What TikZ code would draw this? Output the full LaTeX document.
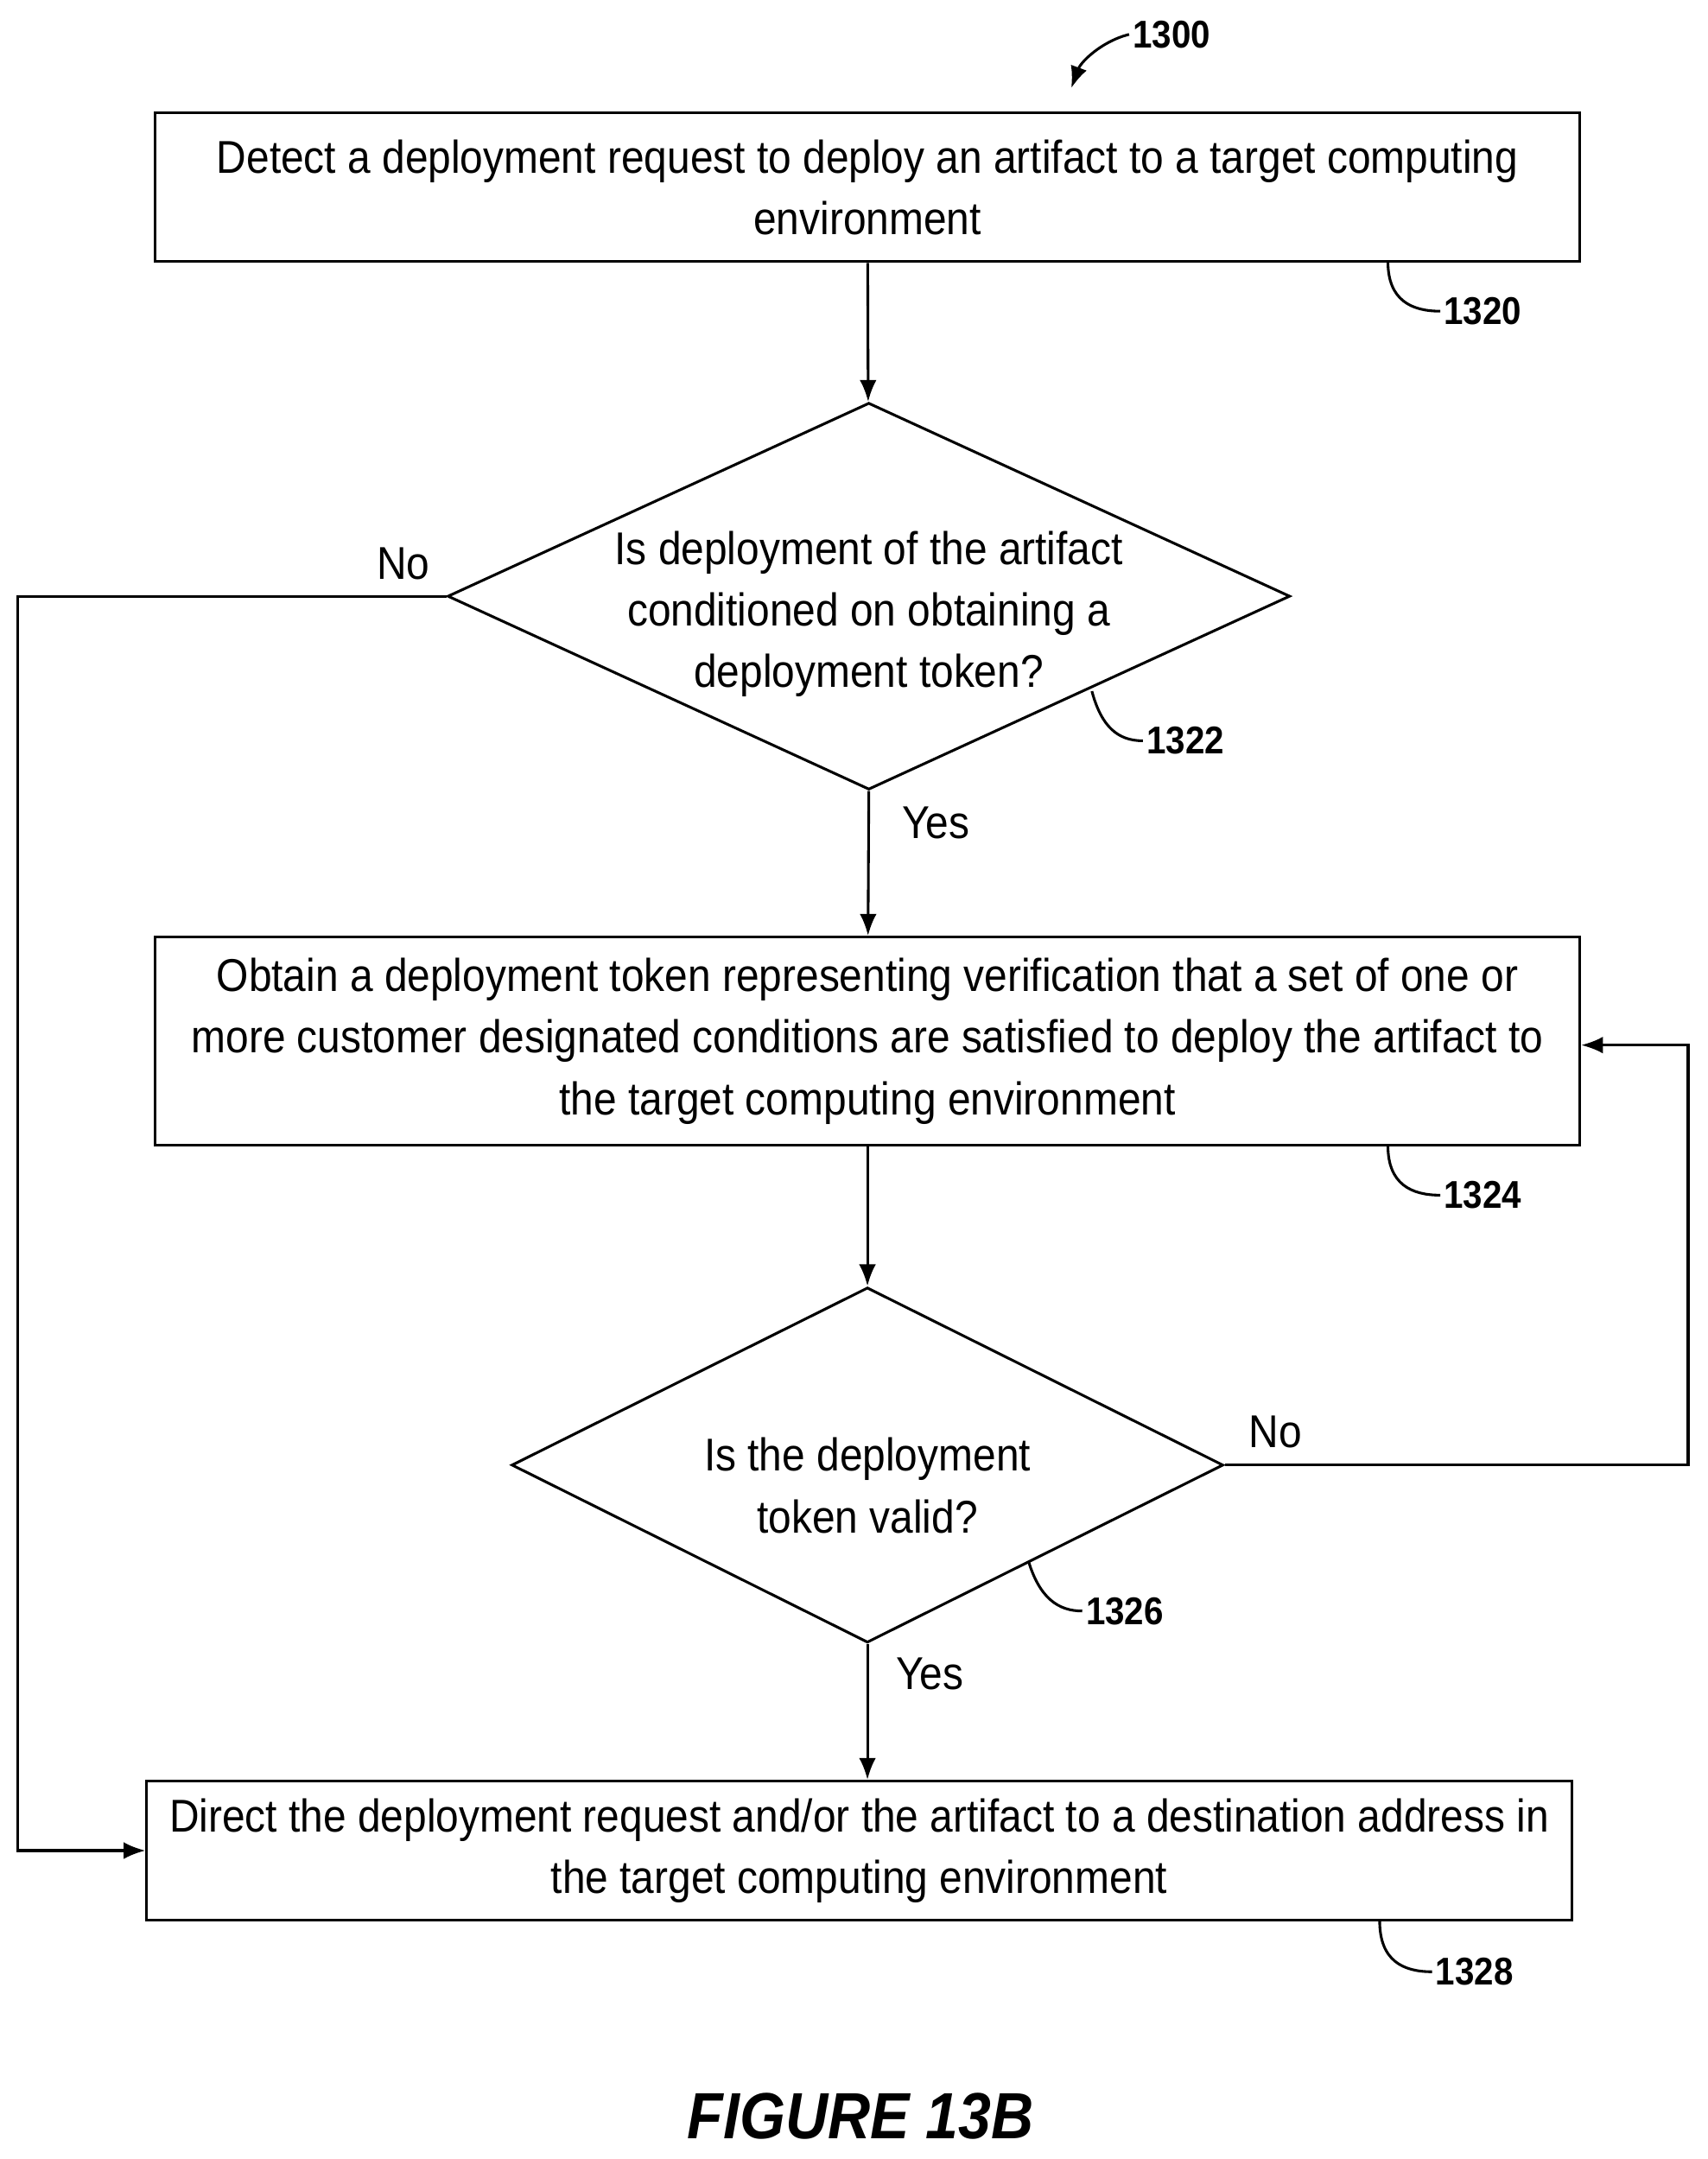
\documentclass[tikz,border=0pt]{standalone}
\usepackage{fontspec}
\setmainfont{Liberation Sans}[FakeStretch=0.9]
\usetikzlibrary{shapes.geometric,arrows.meta,positioning}

\begin{document}
\begin{tikzpicture}[
        x=0.02cm, y=-0.02cm,
        font=\fontsize{19}{25.5}\selectfont,
        line width=1.1pt,
        step/.style={rectangle, draw, minimum height=#1, minimum width=20.7cm, align=center, inner sep=0pt},
        decide/.style={diamond, draw, inner sep=0pt},
        ref/.style={font=\fontsize{16}{18}\selectfont\bfseries, anchor=west, inner sep=1pt},
        arr/.style={-{Latex[length=9pt,width=7pt]}}
    ]
        \useasboundingbox (0,0) rectangle (1240,1568);
        % Steps
        \node[step=2.16cm] (s1320) at (630,136) {Detect a deployment request to deploy an artifact to a target computing\\environment};
        \node[decide, minimum width=12.24cm, minimum height=5.62cm, aspect=2.18] (d1322) at (631,433) {};
        \node[align=center] (t1322) at (631,446) {Is deployment of the artifact\\conditioned on obtaining a\\deployment token?};
        \node[step=3.02cm] (s1324) at (630,756) {Obtain a deployment token representing verification that a set of one or\\more customer designated conditions are satisfied to deploy the artifact to\\the target computing environment};
        \node[decide, minimum width=10.34cm, minimum height=5.16cm, aspect=2.0] (d1326) at (630,1064) {};
        \node[align=center] (t1326) at (630,1079) {Is the deployment\\token valid?};
        \node[step=2.02cm] (s1328) at (624,1344) {Direct the deployment request and/or the artifact to a destination address in\\the target computing environment};
        \coordinate (cl) at (13,433);
        \coordinate (cr) at (1226,759);

        % Arrows
        \draw[arr] (s1320) -- (d1322);
        \draw[arr] (d1322.south) -- node[pos=0.22, right=10pt] {Yes} (s1324);
        \draw[arr] (s1324) -- (d1326);
        \draw[arr] (d1326.south) -- node[pos=0.22, right=8pt] {Yes} (d1326.south |- s1328.north);
        \draw[arr] (d1322.west) -- node[pos=0.1, above=3pt] {No} (cl) |- (s1328.west);
        \draw[arr] (d1326.east) -- node[pos=0.11, above=3pt] {No} (cr |- d1326.east) -- (cr) -- (s1324.east |- cr);

        % Reference labels
        \node[ref] (l1300) at (820,25) {1300};
        \node[ref] (l1320) at (1046,226) {1320};
        \node[ref] (l1322) at (830,538) {1322};
        \node[ref] (l1324) at (1046,868) {1324};
        \node[ref] (l1326) at (786,1170) {1326};
        \node[ref] (l1328) at (1040,1432) {1328};
        \draw[arr] (l1300.west) .. controls (800,30) and (785,45) .. (778,64);
        \draw (1008,190) .. controls (1008,218) and (1025,226) .. (l1320.west);
        \draw (793,502) .. controls (800,528) and (812,538) .. (l1322.west);
        \draw (1008,832) .. controls (1008,860) and (1025,868) .. (l1324.west);
        \draw (747,1134) .. controls (755,1160) and (768,1170) .. (l1326.west);
        \draw (1002,1395) .. controls (1002,1424) and (1019,1432) .. (l1328.west);

        \node[font=\fontsize{27}{30}\selectfont\bfseries\itshape] (fig) at (625,1537) {FIGURE 13B};
    \end{tikzpicture}
\end{document}
